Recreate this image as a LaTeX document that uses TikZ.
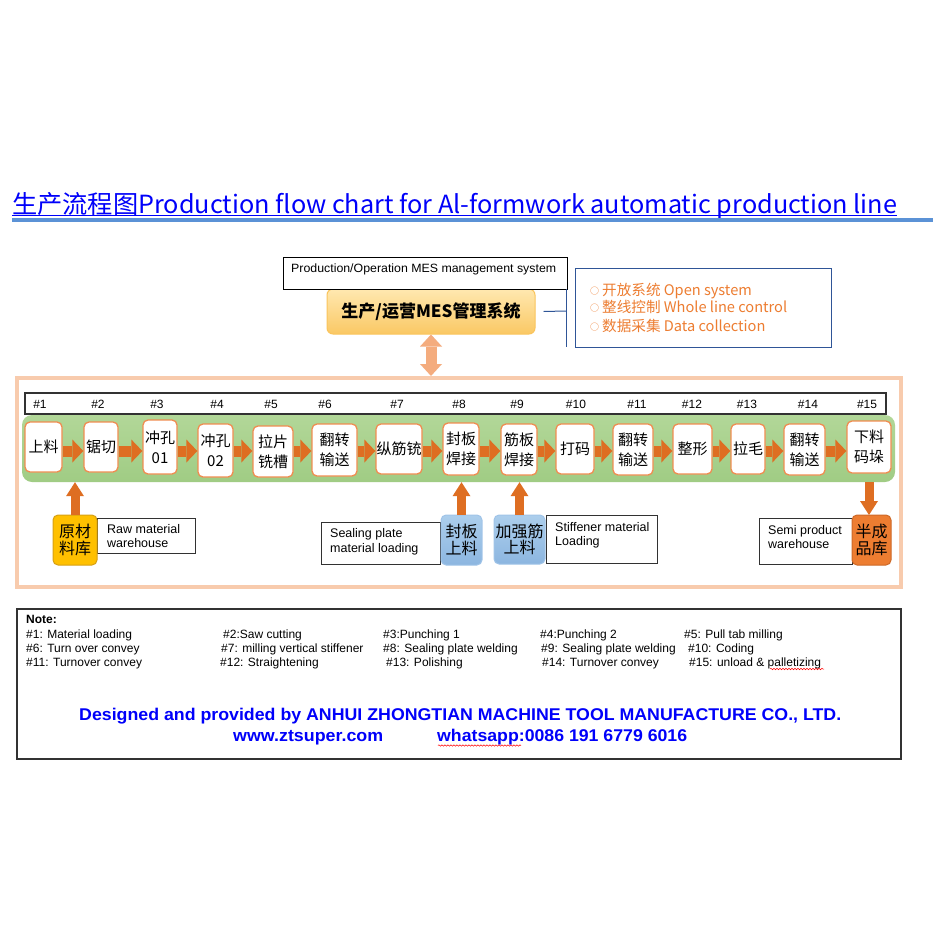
\documentclass[tikz,border=0pt]{standalone}
\usepackage{graphicx}
\usepackage{fontspec}
\setmainfont{Liberation Sans}
\newfontfamily\cjk{Noto Sans CJK SC}
\usetikzlibrary{arrows.meta,decorations.pathmorphing}
\definecolor{titleblue}{RGB}{0,0,250}
\definecolor{barblue}{RGB}{91,146,214}
\definecolor{stbord}{RGB}{240,140,80}
\definecolor{arrowor}{RGB}{222,110,34}
\definecolor{framec}{RGB}{248,203,173}
\definecolor{bandtop}{RGB}{178,215,152}
\definecolor{bandbot}{RGB}{160,204,132}
\definecolor{rawfill}{RGB}{255,192,0}
\definecolor{rawdraw}{RGB}{214,160,20}
\definecolor{bluetop}{RGB}{172,206,236}
\definecolor{bluebot}{RGB}{140,182,224}
\definecolor{bluedraw}{RGB}{160,196,232}
\definecolor{semifill}{RGB}{237,125,49}
\definecolor{semidraw}{RGB}{205,105,40}
\definecolor{mestop}{RGB}{255,232,176}
\definecolor{mesbot}{RGB}{250,200,100}
\definecolor{mesdraw}{RGB}{250,196,92}
\definecolor{navy}{RGB}{47,85,151}
\definecolor{infoor}{RGB}{237,125,49}
\definecolor{dblarr}{RGB}{244,172,126}
\definecolor{lblgray}{RGB}{50,50,50}
\newcommand\fitw[2]{\resizebox{#1}{\height}{#2}}
\newcommand\stn[6]{\node[station,minimum width=#4pt,minimum height=#5pt] (#1) at (#2,#3) {#6};}
\tikzset{
 station/.style={draw=stbord, line width=1.3pt, fill=white, rounded corners=5pt, inner sep=0pt, align=center, font=\cjk\fontsize{15}{20}\selectfont},
 flowarr/.style={draw=arrowor, line width=11pt, -{Triangle[length=11pt,width=23pt,line width=0pt]}},
 vertarr/.style={draw=arrowor, line width=9pt, -{Triangle[length=14pt,width=18pt,line width=0pt]}},
 store/.style={rounded corners=5pt, line width=1pt, inner sep=0pt, align=center, font=\cjk\fontsize{16}{16.5}\selectfont},
 lbl/.style={draw=lblgray, line width=1pt, fill=white, inner sep=0pt},
 ltext/.style={anchor=base west, inner sep=0pt, font=\fontsize{12.5}{14}\selectfont},
 hnum/.style={anchor=base, inner sep=0pt, font=\fontsize{12}{14}\selectfont},
 ntext/.style={anchor=base west, inner sep=0pt, font=\fontsize{12}{14}\selectfont},
 infot/.style={anchor=base west, inner sep=0pt, text=infoor, font=\cjk\fontsize{14.6}{16}\selectfont},
 foot/.style={anchor=base west, inner sep=0pt, text=titleblue, font=\bfseries\fontsize{17}{20}\selectfont},
 wavy/.style={red, line width=0.5pt, decorate, decoration={snake, amplitude=0.7pt, segment length=3pt}},
}
\begin{document}
\begin{tikzpicture}[x=1pt,y=-1pt]
\useasboundingbox (0,0) rectangle (945,945);
\fill[white] (0,0) rectangle (945,945);

% title
\node[anchor=base west, inner sep=0pt, text=titleblue] (title) at (12,213)
  {\fitw{885pt}{\cjk\fontsize{25}{30}\selectfont 生产流程图Production flow chart for Al-formwork automatic production line}};
\draw[titleblue, line width=1.1pt] (12,215.8) -- (897,215.8);
\draw[barblue, line width=3.5pt] (12,220) -- (933,220);

% MES block
\node[top color=mestop, bottom color=mesbot, draw=mesdraw, line width=1pt, rounded corners=6pt,
      minimum width=208pt, minimum height=45pt, inner sep=0pt] (mes) at (431,311.5) {};
\node[inner sep=0pt, font=\cjk\bfseries\fontsize{17}{20}\selectfont] (mestxt) at (431,311.5) {生产/运营MES管理系统};
\node[lbl, draw=black, minimum width=284pt, minimum height=32pt] (meslbl) at (425,273) {};
\node[anchor=base west, inner sep=0pt, font=\fontsize{12}{14}\selectfont] (meslbltxt) at (291,272)
  {\fitw{265pt}{Production/Operation MES management system}};
\node[draw=navy, line width=1pt, fill=white, minimum width=256pt, minimum height=79pt, inner sep=0pt] (info) at (703,307.5) {};
\coordinate (brk) at (566,311);
\draw[navy, line width=1pt] (mes.east) ++(8,0) -- (brk);
\draw[navy, line width=1pt] (566,289) -- (566,347);
\node[infot] (i1) at (590,295) {\raisebox{1pt}{\fontsize{9}{9}\selectfont ○}\hspace{3pt}开放系统 Open system};
\node[infot] (i2) at (590,312.5) {\raisebox{1pt}{\fontsize{9}{9}\selectfont ○}\hspace{3pt}整线控制 Whole line control};
\node[infot] (i3) at (590,331) {\raisebox{1pt}{\fontsize{9}{9}\selectfont ○}\hspace{3pt}数据采集 Data collection};

% frame
\node[draw=framec, line width=4pt, minimum width=884pt, minimum height=209pt, inner sep=0pt] (frame) at (459,482.5) {};
\coordinate (ftop) at (431,376);
\draw[dblarr, line width=11pt, {Triangle[length=12pt,width=22pt,line width=0pt]}-{Triangle[length=12pt,width=22pt,line width=0pt]}]
  (mes.south) -- (ftop);

% header numbers
\node[draw=lblgray, line width=1.2pt, fill=white, minimum width=861pt, minimum height=21pt, inner sep=0pt] (hdr) at (455.5,403.5) {};
\foreach \n/\x in {1/40,2/98,3/157,4/217,5/271,6/325,7/397,8/459,9/517,10/576,11/637,12/692,13/747,14/808,15/867}
  \node[hnum] (h\n) at (\x,408.5) {\#\n};

% green band
\node[top color=bandtop, bottom color=bandbot, rounded corners=10pt, minimum width=873pt, minimum height=67pt, inner sep=0pt] (band) at (458.5,448.5) {};

% stations
\stn{s1}{43.5}{447}{37}{50}{上料}
\stn{s2}{101}{447}{34}{50}{锯切}
\stn{s3}{160}{447}{34}{54}{冲孔\\01}
\stn{s4}{215.5}{450.5}{35}{53}{冲孔\\02}
\stn{s5}{273}{451.5}{40}{51}{拉片\\铣槽}
\stn{s6}{334.5}{450}{45}{52}{翻转\\输送}
\stn{s7}{399}{449}{46}{50}{纵筋铳}
\stn{s8}{461}{449}{36}{52}{封板\\焊接}
\stn{s9}{519}{449.5}{36}{51}{筋板\\焊接}
\stn{s10}{575}{449}{38}{50}{打码}
\stn{s11}{633}{449.5}{40}{51}{翻转\\输送}
\stn{s12}{692.5}{449}{39}{50}{整形}
\stn{s13}{748}{449}{34}{50}{拉毛}
\stn{s14}{804.5}{449.5}{41}{51}{翻转\\输送}
\stn{s15}{869}{447}{44}{52}{下料\\码垛}
\coordinate (ay) at (0,451);
\foreach \a/\b in {1/2,2/3,3/4,4/5,5/6,6/7,7/8,8/9,9/10,10/11,11/12,12/13,13/14,14/15}
  \draw[flowarr] (s\a.east |- ay) -- (s\b.west |- ay);

% labels
\node[lbl, minimum width=98pt, minimum height=35pt] (rawlbl) at (146,535.5) {};
\node[ltext] (rawt1) at (107,533.5) {Raw material};
\node[ltext] (rawt2) at (107,547.5) {warehouse};
\node[lbl, minimum width=119pt, minimum height=42pt] (seallbl) at (380.5,543) {};
\node[ltext] (sealt1) at (330,537.5) {Sealing plate};
\node[ltext] (sealt2) at (330,552) {material loading};
\node[lbl, minimum width=111pt, minimum height=48pt] (stifflbl) at (601.5,539) {};
\node[ltext] (stifft1) at (555,531.5) {Stiffener material};
\node[ltext] (stifft2) at (555,545.5) {Loading};
\node[lbl, minimum width=93pt, minimum height=46pt] (semilbl) at (805.5,541) {};
\node[ltext] (semit1) at (768,534.5) {Semi product};
\node[ltext] (semit2) at (768,548) {warehouse};

% stores
\node[store, fill=rawfill, draw=rawdraw, minimum width=44pt, minimum height=50pt] (raw) at (75,540) {原材\\料库};
\node[store, top color=bluetop, bottom color=bluebot, draw=bluedraw, minimum width=41pt, minimum height=50pt] (seal) at (461.5,540) {封板\\上料};
\node[store, top color=bluetop, bottom color=bluebot, draw=bluedraw, minimum width=51pt, minimum height=49pt] (stiff) at (519.5,539.5) {加强筋\\上料};
\node[store, fill=semifill, draw=semidraw, minimum width=39pt, minimum height=50pt] (semi) at (871.5,540) {半成\\品库};

\draw[vertarr] (raw.north) -- (raw.north |- band.south);
\draw[vertarr] (seal.north) -- (seal.north |- band.south);
\draw[vertarr] (stiff.north) -- (stiff.north |- band.south);
\coordinate (semitop) at (869,515);
\draw[vertarr] (semitop |- band.south) -- (semitop);

% note box
\node[draw=lblgray, line width=1.2pt, minimum width=884pt, minimum height=150pt, inner sep=0pt] (notebox) at (459,684) {};
\node[ntext, font=\bfseries\fontsize{12}{14}\selectfont] (note) at (26,623.5) {Note:};
\node[ntext] (n1) at (26,638.5) {\#1: Material loading};
\node[ntext] (n2) at (223,638.5) {\#2:Saw cutting};
\node[ntext] (n3) at (383,638.5) {\#3:Punching 1};
\node[ntext] (n4) at (540,638.5) {\#4:Punching 2};
\node[ntext] (n5) at (684,638.5) {\#5: Pull tab milling};
\node[ntext] (n6) at (26,652.5) {\#6: Turn over convey};
\node[ntext] (n7) at (221,652.5) {\#7: milling vertical stiffener};
\node[ntext] (n8) at (383,652.5) {\#8: Sealing plate welding};
\node[ntext] (n9) at (541,652.5) {\#9: Sealing plate welding};
\node[ntext] (n10) at (688,652.5) {\#10: Coding};
\node[ntext] (n11) at (26,666.5) {\#11: Turnover convey};
\node[ntext] (n12) at (220,666.5) {\#12: Straightening};
\node[ntext] (n13) at (386,666.5) {\#13: Polishing};
\node[ntext] (n14) at (542,666.5) {\#14: Turnover convey};
\node[ntext] (n15) at (689,666.5) {\#15: unload \& palletizing};
\draw[wavy] (770,669) -- (824,669);

% footer
\node[foot] (f1) at (79,720) {\fitw{762pt}{Designed and provided by ANHUI ZHONGTIAN MACHINE TOOL MANUFACTURE CO., LTD.}};
\node[foot] (f2) at (233,741.5) {\fitw{150pt}{www.ztsuper.com}};
\node[foot] (f3) at (437,741.5) {\fitw{250pt}{whatsapp:0086 191 6779 6016}};
\draw[wavy] (438,745.5) -- (521,745.5);
\end{tikzpicture}
\end{document}
